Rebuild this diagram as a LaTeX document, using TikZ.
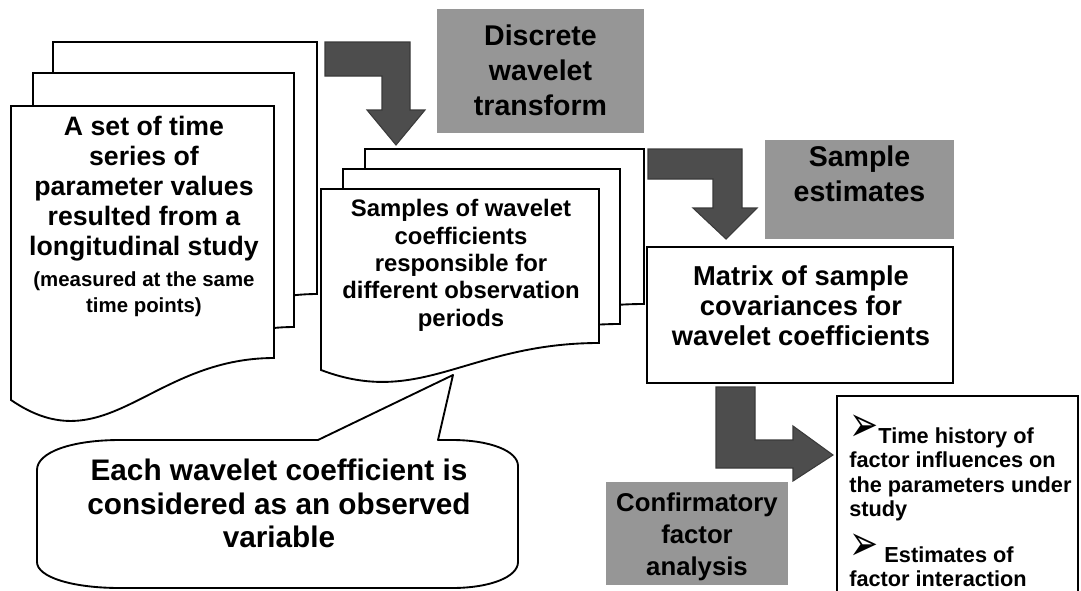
\documentclass[tikz,border=0pt]{standalone}
\usepackage{fontspec}
\setmainfont{Liberation Sans}
\newfontfamily\symfont{DejaVu Sans}
\definecolor{boxgray}{HTML}{969696}
\definecolor{arrowgray}{HTML}{4D4D4D}
\definecolor{arrowedge}{HTML}{3A3A3A}
\newcommand{\mydoc}[6]{%
  \begin{scope}[shift={(#1,#2)}]
    \filldraw[docsheet] (0,0) -- (#3,0) -- (#3,#4)
      .. controls (0.53*#3,#4) and (0.36*#3,#5+#6) .. (0,#5) -- cycle;
  \end{scope}}
\newcommand{\arrowbullet}{\smash{\raisebox{1.5pt}{\scalebox{1.6}[2.3]{\symfont ➢}}}}
\begin{document}
\begin{tikzpicture}[x=0.75pt,y=-0.75pt,
  docsheet/.style={draw=black, fill=white, line width=1.4pt, line join=miter},
  blockarrow/.style={fill=arrowgray, draw=arrowedge, line width=0.8pt, line join=miter},
  graybox/.style={fill=boxgray},
  whitebox/.style={draw=black, fill=white, line width=1.4pt},
  txt/.style={font=\bfseries, align=center, inner sep=0pt, anchor=north},
  big/.style={txt, font=\bfseries\fontsize{20pt}{22.5pt}\selectfont},
  small/.style={txt, font=\bfseries\fontsize{15.3pt}{20pt}\selectfont},
  mid/.style={txt, font=\bfseries\fontsize{17.9pt}{20.6pt}\selectfont},
  title/.style={txt, font=\bfseries\fontsize{21.4pt}{25.9pt}\selectfont},
  calltxt/.style={txt, font=\bfseries\fontsize{22.3pt}{25pt}\selectfont},
  res/.style={font=\bfseries\fontsize{16.3pt}{18.4pt}\selectfont, align=left, inner sep=0pt, anchor=north west},
]
\useasboundingbox (0,0) rectangle (1081,590);

% ---- stack 1: time series
\mydoc{53}{42}{264}{252}{294}{65}
\mydoc{33}{73}{261}{254}{294}{65}
\mydoc{11}{106}{263}{252}{294}{65}
\node[big] (ts) at (144,116) {A set of time\\series of\\parameter values\\resulted from a\\longitudinal study};
\node[small] (tsnote) at (144,271) {(measured at the same\\time points)};

% ---- arrow 1 + title
\filldraw[blockarrow] (325,42) -- (410,42) -- (410,110) -- (425,110) -- (396,145) -- (367,110) -- (382,110) -- (382,76) -- (325,76) -- cycle;
\fill[graybox] (437,9) rectangle (644,133);
\node[title] (dwt) at (540.5,25) {Discrete\\wavelet\\transform};

% ---- stack 2: wavelet coefficient samples
\mydoc{365}{149}{279}{155}{181}{38}
\mydoc{343}{169}{277}{155}{181}{38}
\mydoc{321}{189}{278}{154}{181}{38}
\node[mid] (wc) at (461,199) {Samples of wavelet\\coefficients\\responsible for\\different observation\\periods};

% ---- arrow 2 + title
\filldraw[blockarrow] (648,149) -- (742,149) -- (742,208) -- (757,208) -- (726,239) -- (693,208) -- (713,208) -- (713,179) -- (648,179) -- cycle;
\fill[graybox] (765,140) rectangle (954,239);
\node[title] (se) at (859.5,146) {Sample\\estimates};

% ---- matrix box
\filldraw[whitebox] (647,247) rectangle (953,383);
\node[big, font=\bfseries\fontsize{20.5pt}{22.5pt}\selectfont] (mx) at (801,265) {Matrix of sample\\covariances for\\wavelet coefficients};

% ---- callout
\coordinate (tip) at (453,375);
\filldraw[docsheet, line join=round] (37,470) .. controls (37,452) and (72,440) .. (120,440)
  -- (318,440) -- (tip) -- (438,440) -- (452,440)
  .. controls (490,440) and (518,451) .. (518,466)
  -- (518,562) .. controls (518,577) and (490,588) .. (452,588)
  -- (120,588) .. controls (72,588) and (37,577) .. (37,562) -- cycle;
\node[calltxt] (cl) at (279,459) {Each wavelet coefficient is\\considered as an observed\\variable};

% ---- arrow 3 + title
\filldraw[blockarrow] (716,387) -- (755,387) -- (755,440) -- (793,440) -- (793,426) -- (833,455) -- (793,481) -- (793,468) -- (716,468) -- cycle;
\fill[graybox] (606,482) rectangle (788,585);
\node[title, font=\bfseries\fontsize{19.3pt}{24pt}\selectfont] (cfa) at (697,493) {Confirmatory\\factor\\analysis};

% ---- results box
\fill[white] (837,396) rectangle (1078,592);
\draw[line width=1.4pt] (837,592) -- (837,396);
\draw[line width=1.4pt] (1078,396) -- (1078,592);
\draw[line width=2.2pt] (836,396) -- (1079,396);
\node[res] (r1) at (849,427) {\arrowbullet Time history of\\factor influences on\\the parameters under\\study};
\node[res] (r2) at (849,546) {\arrowbullet\ Estimates of\\factor interaction};
\end{tikzpicture}
\end{document}
